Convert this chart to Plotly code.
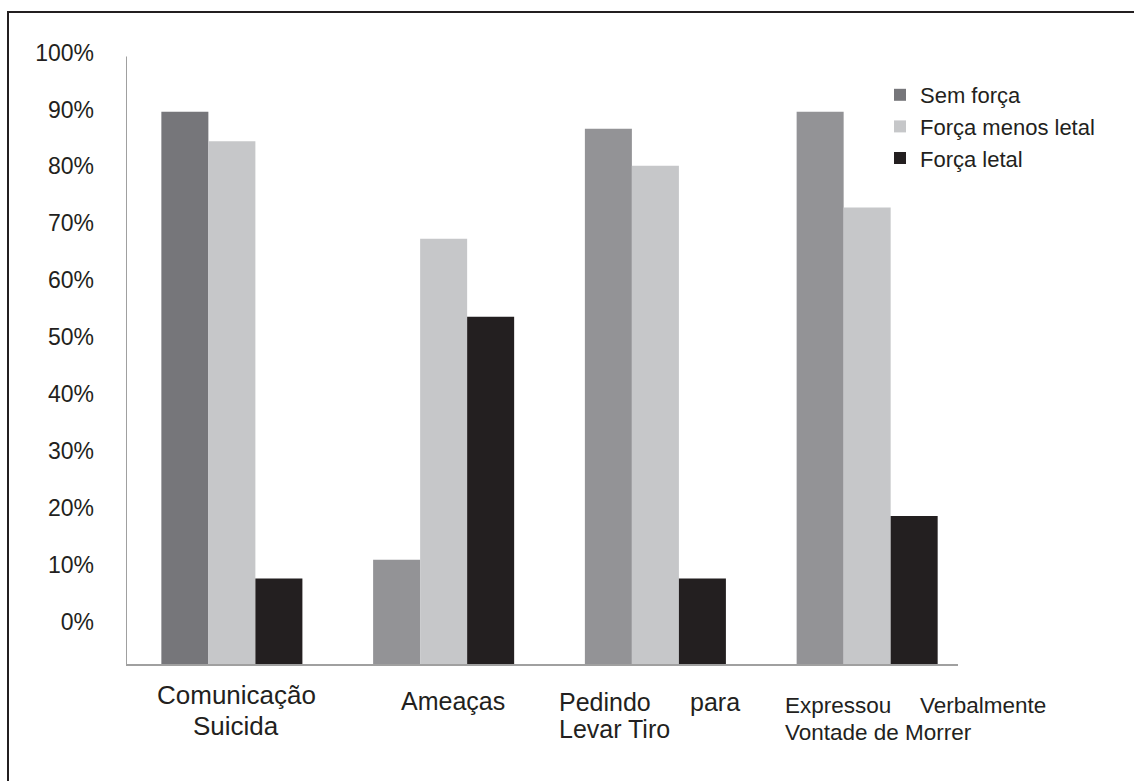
import plotly.graph_objects as go

# ---- data -------------------------------------------------------------
categories = [
    "Comunicação Suicida",
    "Ameaças",
    "Pedindo para Levar Tiro",
    "Expressou Verbalmente Vontade de Morrer",
]
series_names = ["Sem força", "Força menos letal", "Força letal"]
sem_forca = [89.6, 10.9, 86.6, 89.6]
forca_menos_letal = [84.4, 67.3, 80.1, 72.8]
forca_letal = [7.6, 53.6, 7.6, 18.6]
tick_values = [0, 10, 20, 30, 40, 50, 60, 70, 80, 90, 100]
tick_labels = ["0%", "10%", "20%", "30%", "40%", "50%", "60%", "70%", "80%", "90%", "100%"]

# ---- geometry / style -------------------------------------------------
W, H = 1134, 781
ML, MR, MT, MB = 126, 176, 48, 117
PLOT_W = W - ML - MR
PLOT_H = H - MT - MB
AXIS_FLOOR = -7.4          # the bars grow from the axis line, below the 0% label
Y_TOP = 100.8
X_RANGE = [-0.5, 3.429]
FONT = "Liberation Sans, Arial, sans-serif"
TXT = "#231f20"
AXIS_GRAY = "#a0a0a0"

def px_x(px):
    return (px - ML) / PLOT_W

def px_y(py):
    return (H - MB - py) / PLOT_H

x_pos = list(range(len(categories)))

fig = go.Figure()
series = [sem_forca, forca_menos_letal, forca_letal]
colors = [
    ["#76767a", "#939396", "#939396", "#939396"],
    "#c6c7c9",
    "#231f20",
]
for name, vals, col in zip(series_names, series, colors):
    fig.add_trace(go.Bar(
        name=name,
        x=x_pos,
        y=[v - AXIS_FLOOR for v in vals],
        base=AXIS_FLOOR,
        marker=dict(color=col, line=dict(width=0)),
        customdata=vals,
        hovertemplate="%{customdata}%<extra>" + name + "</extra>",
    ))

# ---- category labels (multi-line, with justified first lines) --------
label_lines = {
    0: [("center", ["Comunicação"], 236, 695, 26), ("center", ["Suicida"], 236, 726, 26)],
    1: [("center", ["Ameaças"], 453, 701, 25)],
    2: [("justify", ["Pedindo", "para"], (557, 742), 702, 25),
        ("left", ["Levar Tiro"], 557, 729, 25)],
    3: [("justify", ["Expressou", "Verbalmente"], (783, 1048), 705, 22.5),
        ("left", ["Vontade de Morrer"], 783, 733, 22.5)],
}
annotations = []
for idx, lines in label_lines.items():
    for mode, words, xpx, ypx, fs in lines:
        common = dict(xref="paper", yref="paper", yanchor="middle", showarrow=False,
                      font=dict(family=FONT, size=fs, color=TXT))
        if mode == "center":
            annotations.append(dict(text=words[0], x=px_x(xpx), y=px_y(ypx), xanchor="center", **common))
        elif mode == "left":
            annotations.append(dict(text=words[0], x=px_x(xpx), y=px_y(ypx), xanchor="left", **common))
        else:
            annotations.append(dict(text=words[0], x=px_x(xpx[0]), y=px_y(ypx), xanchor="left", **common))
            annotations.append(dict(text=words[1], x=px_x(xpx[1]), y=px_y(ypx), xanchor="right", **common))

shapes = [
    # vertical value axis line
    dict(type="line", xref="x", yref="y", x0=X_RANGE[0], x1=X_RANGE[0],
         y0=AXIS_FLOOR, y1=99.3, line=dict(color=AXIS_GRAY, width=2)),
    # outer frame (left and top edges)
    dict(type="line", xref="paper", yref="paper", x0=px_x(8), x1=px_x(8),
         y0=px_y(12), y1=px_y(H + 5), line=dict(color=TXT, width=2)),
    dict(type="line", xref="paper", yref="paper", x0=px_x(7), x1=px_x(W + 5),
         y0=px_y(12), y1=px_y(12), line=dict(color=TXT, width=2)),
]

fig.update_layout(
    width=W, height=H,
    margin=dict(l=ML, r=MR, t=MT, b=MB, pad=0),
    paper_bgcolor="white", plot_bgcolor="white",
    barmode="group", bargap=0.334, bargroupgap=0,
    font=dict(family=FONT, color=TXT),
    showlegend=True,
    legend=dict(
        x=px_x(880), y=px_y(74), xanchor="left", yanchor="top",
        font=dict(family=FONT, size=22, color=TXT),
        bgcolor="rgba(0,0,0,0)", borderwidth=0,
        tracegroupgap=0, itemwidth=30,
    ),
    xaxis=dict(range=X_RANGE, showticklabels=False, showgrid=False, zeroline=False,
               showline=True, linecolor=AXIS_GRAY, linewidth=2, ticks="", fixedrange=True),
    yaxis=dict(range=[AXIS_FLOOR, Y_TOP], tickvals=tick_values, ticktext=tick_labels,
               showgrid=False, zeroline=False, showline=False, ticks="",
               ticklabelstandoff=31, tickfont=dict(family=FONT, size=23, color=TXT)),
    annotations=annotations,
    shapes=shapes,
)

fig.write_html("out.html")
